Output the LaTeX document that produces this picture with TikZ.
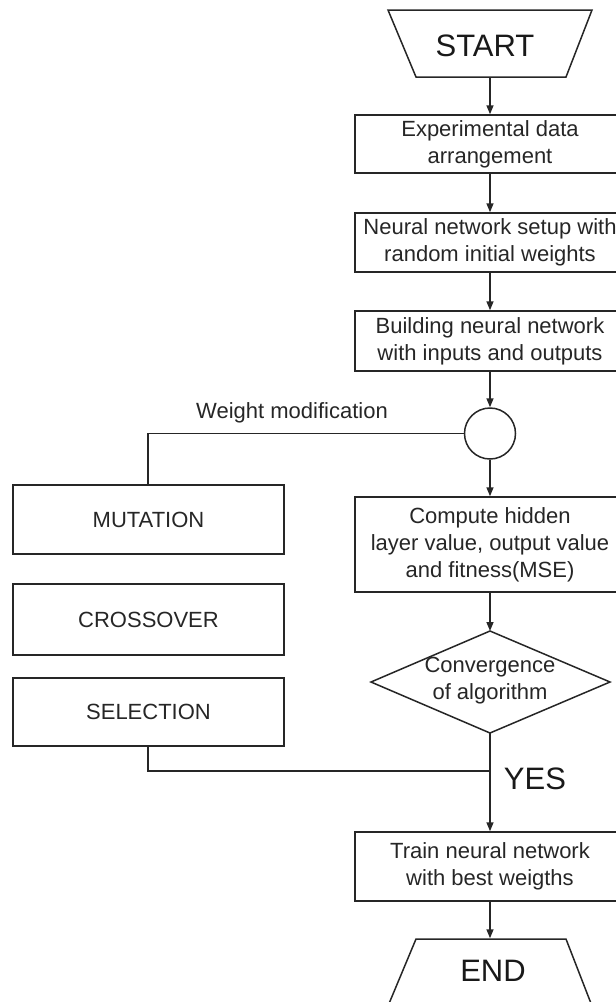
\documentclass[tikz,border=0pt]{standalone}
\usepackage{fontspec}
\setmainfont{Liberation Sans}
\usetikzlibrary{arrows.meta}
\begin{document}
\begin{tikzpicture}[x=1pt,y=-1pt,line width=1.5pt,
  txt/.style={font=\fontsize{22}{27}\selectfont,text=black!85},
  bigtxt/.style={font=\fontsize{31}{36}\selectfont,text=black!90},
  box/.style={draw=black!85,txt,minimum width=270pt,align=center,inner sep=0pt},
  lbox/.style={box,minimum width=271pt},
  junc/.style={draw=black!85,circle,minimum size=51pt,inner sep=0pt},
  arr/.style={draw=black!85,-{Triangle[length=9pt,width=7pt]}},
  link/.style={draw=black!85}]
\path[use as bounding box,clip] (0,0) rectangle (616,1002);
% START trapezium
\draw[black!85] (388,10) -- (592,10) -- (566,77) -- (416,77) -- cycle;
\node[bigtxt,minimum width=150pt,minimum height=67pt,inner sep=0pt] (start) at (490,43.5) {};
\node[bigtxt] (starttxt) at (485,46) {START};
% boxes
\node[box,minimum height=58pt] (b1) at (490,144) {Experimental data\\arrangement};
\node[box,minimum height=59pt] (b2) at (490,242.5) {Neural network setup with\\random initial weights};
\node[box,minimum height=60pt] (b3) at (490,341) {Building neural network\\with inputs and outputs};
\node[junc] (c) at (490,433.5) {};
\node[box,minimum height=95pt] (comp) at (490,544.5) {Compute hidden\\layer value, output value\\and fitness(MSE)};
% diamond
\coordinate (dt) at (490,631);
\coordinate (dr) at (610,682);
\coordinate (db) at (490,733);
\coordinate (dl) at (371,682);
\draw[black!85] (dt) -- (dr) -- (db) -- (dl) -- cycle;
\node[txt,align=center] (conv) at (490,681) {Convergence\\of algorithm};
\node[box,minimum height=69pt] (train) at (490,866.5) {Train neural network\\with best weigths};
% END trapezium
\draw[black!85] (416,939) -- (566,939) -- (592,1006) -- (388,1006) -- cycle;
\node[minimum width=150pt,minimum height=67pt,inner sep=0pt] (endn) at (490,972.5) {};
\node[bigtxt] (endtxt) at (493,971) {END};
% left boxes
\node[lbox,minimum height=69pt] (mut) at (148.5,519.5) {MUTATION};
\node[lbox,minimum height=71pt] (cross) at (148.5,619.5) {CROSSOVER};
\node[lbox,minimum height=68pt] (sel) at (148.5,712) {SELECTION};
% labels
\node[txt] (wm) at (292,413) {Weight modification};
\node[bigtxt] (yes) at (535,779) {YES};
% connectors
\draw[arr] (start.south) -- (b1.north);
\draw[arr] (b1.south) -- (b2.north);
\draw[arr] (b2.south) -- (b3.north);
\draw[arr] (b3.south) -- (c.north);
\draw[arr] (c.south) -- (comp.north);
\draw[arr] (comp.south) -- (dt);
\draw[arr] (db) -- (train.north);
\draw[arr] (train.south) -- (endn.north);
\coordinate (jn) at (490,771);
\draw[link] (c.west) -| (148,485);
\draw[link] (148,746) |- (jn);
\end{tikzpicture}
\end{document}
